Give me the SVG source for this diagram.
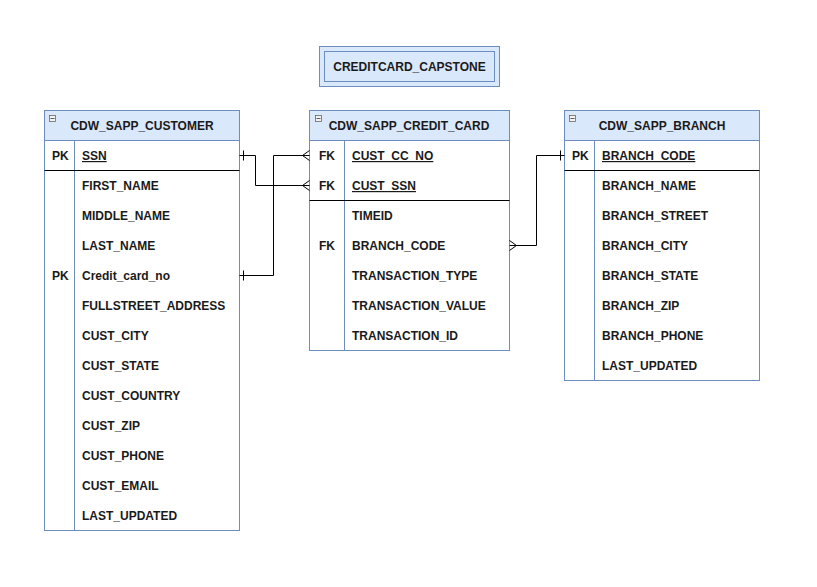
<svg xmlns="http://www.w3.org/2000/svg" width="817" height="587" viewBox="0 0 817 587">
<style>
.t{font-family:"Liberation Sans",Arial,sans-serif;font-size:12px;font-weight:bold;fill:#1a1a1a}
.h{text-anchor:middle}
.u{text-decoration:underline}
.hd{fill:#dae8fc;stroke:#6c8ebf;stroke-width:1}
.bd{fill:#ffffff;stroke:#6c8ebf;stroke-width:1}
.sep{stroke:#000;stroke-width:1}
.col{stroke:#6c8ebf;stroke-width:1}
.ic{fill:#f2f2f2;stroke:#666;stroke-width:0.8}
.ln{fill:none;stroke:#000;stroke-width:1}
</style>
<rect width="817" height="587" fill="#ffffff"/>
<g id="title">
<rect x="319.5" y="46.5" width="180" height="40" class="hd"/>
<rect x="324.5" y="51.5" width="170" height="30" class="hd"/>
<text x="409.5" y="71" class="t h">CREDITCARD_CAPSTONE</text>
</g>
<g id="customer">
<rect x="44.5" y="110.5" width="195" height="420" class="bd"/>
<rect x="44.5" y="110.5" width="195" height="30" class="hd"/>
<rect x="49.5" y="115.5" width="6" height="6" class="ic"/><line x1="50.5" y1="118.5" x2="54.5" y2="118.5" stroke="#333" stroke-width="0.8"/>
<text x="142" y="130" class="t h">CDW_SAPP_CUSTOMER</text>
<line x1="74.5" y1="140.5" x2="74.5" y2="530.5" class="col"/>
<line x1="44.5" y1="170.5" x2="239.5" y2="170.5" class="sep"/>
<text x="52" y="160" class="t">PK</text>
<text x="82" y="160" class="t u">SSN</text>
<text x="82" y="190" class="t">FIRST_NAME</text>
<text x="82" y="220" class="t">MIDDLE_NAME</text>
<text x="82" y="250" class="t">LAST_NAME</text>
<text x="52" y="280" class="t">PK</text>
<text x="82" y="280" class="t">Credit_card_no</text>
<text x="82" y="310" class="t">FULLSTREET_ADDRESS</text>
<text x="82" y="340" class="t">CUST_CITY</text>
<text x="82" y="370" class="t">CUST_STATE</text>
<text x="82" y="400" class="t">CUST_COUNTRY</text>
<text x="82" y="430" class="t">CUST_ZIP</text>
<text x="82" y="460" class="t">CUST_PHONE</text>
<text x="82" y="490" class="t">CUST_EMAIL</text>
<text x="82" y="520" class="t">LAST_UPDATED</text>
</g>
<g id="credit_card">
<rect x="309.5" y="110.5" width="200" height="240" class="bd"/>
<rect x="309.5" y="110.5" width="200" height="30" class="hd"/>
<rect x="315.5" y="115.5" width="6" height="6" class="ic"/><line x1="316.5" y1="118.5" x2="320.5" y2="118.5" stroke="#333" stroke-width="0.8"/>
<text x="409" y="130" class="t h">CDW_SAPP_CREDIT_CARD</text>
<line x1="344.5" y1="140.5" x2="344.5" y2="350.5" class="col"/>
<line x1="309.5" y1="200.5" x2="509.5" y2="200.5" class="sep"/>
<text x="319" y="160" class="t">FK</text>
<text x="352" y="160" class="t u">CUST_CC_NO</text>
<text x="319" y="190" class="t">FK</text>
<text x="352" y="190" class="t u">CUST_SSN</text>
<text x="352" y="220" class="t">TIMEID</text>
<text x="319" y="250" class="t">FK</text>
<text x="352" y="250" class="t">BRANCH_CODE</text>
<text x="352" y="280" class="t">TRANSACTION_TYPE</text>
<text x="352" y="310" class="t">TRANSACTION_VALUE</text>
<text x="352" y="340" class="t">TRANSACTION_ID</text>
</g>
<g id="branch">
<rect x="564.5" y="110.5" width="195" height="270" class="bd"/>
<rect x="564.5" y="110.5" width="195" height="30" class="hd"/>
<rect x="569.5" y="115.5" width="6" height="6" class="ic"/><line x1="570.5" y1="118.5" x2="574.5" y2="118.5" stroke="#333" stroke-width="0.8"/>
<text x="662" y="130" class="t h">CDW_SAPP_BRANCH</text>
<line x1="594.5" y1="140.5" x2="594.5" y2="380.5" class="col"/>
<line x1="564.5" y1="170.5" x2="759.5" y2="170.5" class="sep"/>
<text x="572" y="160" class="t">PK</text>
<text x="602" y="160" class="t u">BRANCH_CODE</text>
<text x="602" y="190" class="t">BRANCH_NAME</text>
<text x="602" y="220" class="t">BRANCH_STREET</text>
<text x="602" y="250" class="t">BRANCH_CITY</text>
<text x="602" y="280" class="t">BRANCH_STATE</text>
<text x="602" y="310" class="t">BRANCH_ZIP</text>
<text x="602" y="340" class="t">BRANCH_PHONE</text>
<text x="602" y="370" class="t">LAST_UPDATED</text>
</g>
<g id="connectors">
<path class="ln" d="M239.5 155.5 H255.5 V185.5 H309.5"/>
<path class="ln" d="M243.5 150.5 V160.5"/>
<path class="ln" d="M309.5 180.5 L302.5 185.5 L309.5 190.5"/>
<path class="ln" d="M239.5 275.5 H273.5 V155.5 H309.5"/>
<path class="ln" d="M243.5 270.5 V280.5"/>
<path class="ln" d="M309.5 150.5 L302.5 155.5 L309.5 160.5"/>
<path class="ln" d="M509.5 245.5 H536.5 V155.5 H564.5"/>
<path class="ln" d="M509.5 240.5 L516.5 245.5 L509.5 250.5"/>
<path class="ln" d="M560.5 150.5 V160.5"/>
</g>
</svg>
